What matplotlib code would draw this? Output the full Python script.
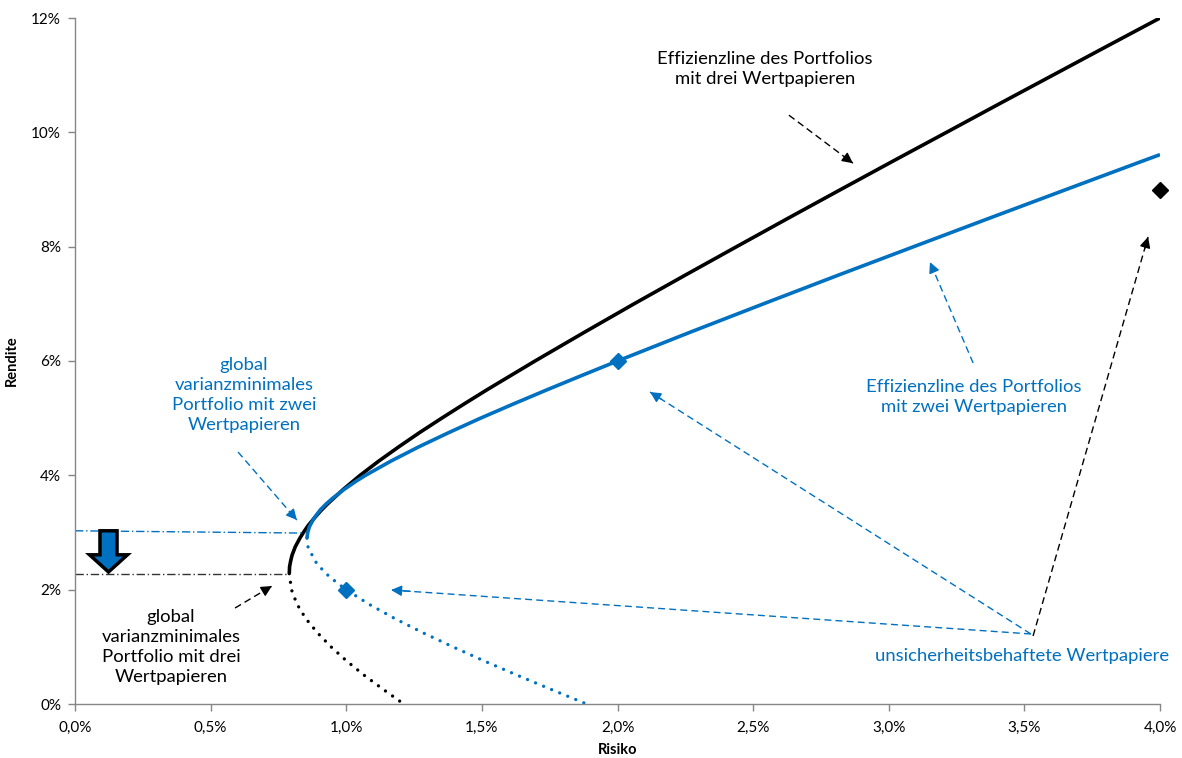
import matplotlib
matplotlib.use("Agg")
import matplotlib.pyplot as plt
from matplotlib.ticker import FuncFormatter
from matplotlib.patches import FancyArrow

plt.rcParams['font.family'] = ['Lato', 'DejaVu Sans']

BLUE = '#0070C0'
GREY = '#868686'

# Effizienzlinie, drei Wertpapiere (Risiko %, Rendite %) - oberer Ast
black_eff_risk = [0.790, 0.791, 0.795, 0.800, 0.812, 0.829, 0.842, 0.860, 0.882, 0.905, 0.931, 0.988,
                  1.051, 1.120, 1.194, 1.271, 1.352, 1.435, 1.520, 1.696, 1.877, 2.061, 2.249, 2.439,
                  2.630, 2.823, 3.017, 3.213, 3.408, 3.605, 3.802, 4.000]
black_eff_ret = [2.28, 2.40, 2.50, 2.60, 2.75, 2.90, 3.00, 3.125, 3.25, 3.375, 3.50, 3.75,
                 4.00, 4.25, 4.50, 4.75, 5.00, 5.25, 5.50, 6.00, 6.50, 7.00, 7.50, 8.00,
                 8.50, 9.00, 9.50, 10.00, 10.50, 11.00, 11.50, 12.00]
# ineffizienter Ast, drei Wertpapiere
black_ineff_risk = [0.790, 0.798, 0.818, 0.850, 0.893, 0.944, 1.002, 1.067, 1.138, 1.212]
black_ineff_ret = [2.28, 2.00, 1.75, 1.50, 1.25, 1.00, 0.75, 0.50, 0.25, 0.00]

# Effizienzlinie, zwei Wertpapiere
blue_eff_risk = [0.855, 0.858, 0.864, 0.881, 0.905, 0.926, 0.950, 0.991, 1.037, 1.071, 1.165,
                 1.268, 1.379, 1.495, 1.617, 1.742, 1.870, 2.000, 2.266, 2.538, 2.813, 3.092,
                 3.372, 3.654, 3.937, 4.000]
blue_eff_ret = [2.90, 3.00, 3.10, 3.25, 3.40, 3.50, 3.60, 3.75, 3.90, 4.00, 4.25,
                4.50, 4.75, 5.00, 5.25, 5.50, 5.75, 6.00, 6.50, 7.00, 7.50, 8.00,
                8.50, 9.00, 9.50, 9.61]
blue_ineff_risk = [0.855, 0.859, 0.885, 0.902, 0.933, 0.971, 1.000, 1.082, 1.177, 1.281, 1.393,
                   1.510, 1.632, 1.758, 1.886]
blue_ineff_ret = [2.90, 2.75, 2.50, 2.40, 2.25, 2.10, 2.00, 1.75, 1.50, 1.25, 1.00,
                  0.75, 0.50, 0.25, 0.00]

# Einzelne Wertpapiere
asset_blue_risk = [1.0, 2.0]
asset_blue_ret = [2.0, 6.0]
asset_black_risk = [4.0]
asset_black_ret = [9.0]

# Minimum-Varianz-Niveaus
mvp_two = [3.03, 2.99]
mvp_three = 2.27

x_ticks = [0.0, 0.5, 1.0, 1.5, 2.0, 2.5, 3.0, 3.5, 4.0]
y_ticks = [0, 2, 4, 6, 8, 10, 12]

fig = plt.figure(figsize=(11.82, 7.58), dpi=100)
ax = fig.add_axes([75 / 1182, 1 - 704 / 758, 1085 / 1182, 686 / 758])

ax.plot(black_eff_risk, black_eff_ret, color='black', lw=2.6, solid_capstyle='butt')
ax.plot(black_ineff_risk, black_ineff_ret, color='black', lw=2.4,
        dashes=(0.01, 2.6), dash_capstyle='round')
ax.plot(blue_eff_risk, blue_eff_ret, color=BLUE, lw=2.6, solid_capstyle='butt')
ax.plot(blue_ineff_risk, blue_ineff_ret, color=BLUE, lw=2.4,
        dashes=(0.01, 2.6), dash_capstyle='round')

ax.plot(asset_blue_risk, asset_blue_ret, 'D', color=BLUE, ms=8, zorder=5)
ax.plot(asset_black_risk, asset_black_ret, 'D', color='black', ms=8, zorder=5, clip_on=False)

# horizontale Hilfslinien zu den Minimum-Varianz-Portfolios
ax.plot([0, 0.84], mvp_two, color=BLUE, lw=1, dashes=(6, 2, 1, 2))
ax.plot([0, 0.78], [mvp_three, mvp_three], color='#333333', lw=1, dashes=(6, 2, 1, 2))

# Blockpfeil
ax.add_patch(FancyArrow(0.1235, 3.03, 0, -0.72, width=0.063, head_width=0.14,
                        head_length=0.3, length_includes_head=True,
                        facecolor=BLUE, edgecolor='black', lw=2.5, zorder=6))


def dashed_arrow(start, tip, color):
    ax.plot([start[0], tip[0]], [start[1], tip[1]], color=color, lw=1, dashes=(5, 3))
    ax.annotate('', xy=tip, xytext=(start[0] + 0.97 * (tip[0] - start[0]),
                                    start[1] + 0.97 * (tip[1] - start[1])),
                arrowprops=dict(arrowstyle='-|>', color=color, lw=1,
                                mutation_scale=16, shrinkA=0, shrinkB=0))


dashed_arrow((2.632, 10.30), (2.868, 9.46), 'black')
dashed_arrow((3.311, 5.965), (3.152, 7.73), BLUE)
dashed_arrow((3.532, 1.19), (3.956, 8.17), 'black')
dashed_arrow((3.524, 1.225), (2.120, 5.457), BLUE)
dashed_arrow((3.524, 1.225), (1.165, 1.994), BLUE)
dashed_arrow((0.601, 4.408), (0.818, 3.218), BLUE)
dashed_arrow((0.590, 1.679), (0.726, 2.064), 'black')

txt = dict(ha='center', va='center', fontsize=13.3, linespacing=1.3)
ax.text(2.544, 11.107, 'Effizienzline des Portfolios\nmit drei Wertpapieren', color='black', **txt)
ax.text(3.314, 5.37, 'Effizienzline des Portfolios\nmit zwei Wertpapieren', color=BLUE, **txt)
ax.text(3.491, 0.84, 'unsicherheitsbehaftete Wertpapiere', color=BLUE, **txt)
ax.text(0.623, 5.405, 'global\nvarianzminimales\nPortfolio mit zwei\nWertpapieren', color=BLUE, **txt)
ax.text(0.354, 0.997, 'global\nvarianzminimales\nPortfolio mit drei\nWertpapieren', color='black', **txt)

ax.set_xlim(0, 4)
ax.set_ylim(0, 12)
ax.set_xticks(x_ticks)
ax.set_yticks(y_ticks)
ax.xaxis.set_major_formatter(FuncFormatter(lambda v, p: f'{v:.1f}%'.replace('.', ',')))
ax.yaxis.set_major_formatter(FuncFormatter(lambda v, p: f'{v:.0f}%'))
ax.tick_params(direction='out', length=5, width=1, color=GREY, labelsize=11)
ax.tick_params(axis='x', pad=7)
ax.tick_params(axis='y', pad=5)
for s in ['top', 'right']:
    ax.spines[s].set_visible(False)
for s in ['left', 'bottom']:
    ax.spines[s].set_color(GREY)
    ax.spines[s].set_linewidth(1)

ax.set_xlabel('Risiko', fontsize=10.5, fontweight='bold', labelpad=6)
ax.set_ylabel('Rendite', fontsize=10.5, fontweight='bold', labelpad=9)

fig.savefig('out.png', dpi=100)
